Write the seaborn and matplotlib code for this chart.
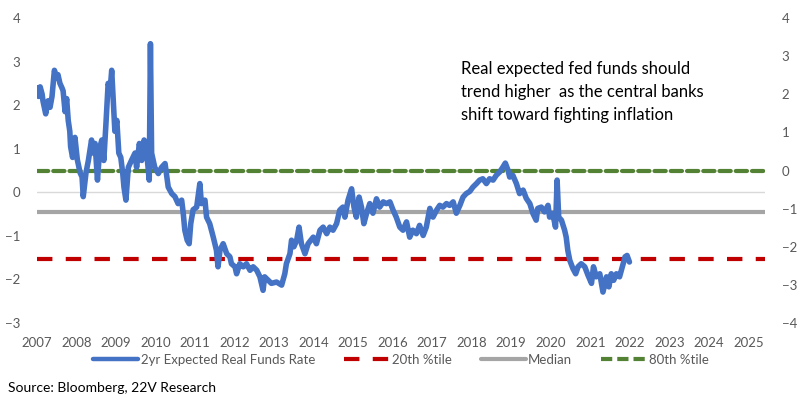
import numpy as np
import pandas as pd
import matplotlib
matplotlib.use("Agg")
import matplotlib.pyplot as plt
import seaborn as sns
from matplotlib.lines import Line2D

# 2yr expected real fed funds rate (decimal year, %)
years = [
    2007.00, 2007.04, 2007.08, 2007.13, 2007.15, 2007.22, 2007.28, 2007.33, 2007.38, 2007.40,
    2007.44, 2007.50, 2007.53, 2007.58, 2007.63, 2007.66, 2007.71, 2007.75, 2007.79, 2007.83,
    2007.85, 2007.90, 2007.96, 2008.02, 2008.09, 2008.14, 2008.17, 2008.24, 2008.30, 2008.38,
    2008.42, 2008.47, 2008.53, 2008.59, 2008.64, 2008.69, 2008.74, 2008.80, 2008.85, 2008.89,
    2008.93, 2008.97, 2009.02, 2009.07, 2009.12, 2009.17, 2009.20, 2009.25, 2009.31, 2009.39,
    2009.48, 2009.52, 2009.59, 2009.65, 2009.71, 2009.77, 2009.84, 2009.87, 2009.90, 2009.98,
    2010.07, 2010.15, 2010.24, 2010.32, 2010.41, 2010.49, 2010.57, 2010.66, 2010.70, 2010.74,
    2010.80, 2010.85, 2010.89, 2010.95, 2011.04, 2011.12, 2011.16, 2011.25, 2011.29, 2011.37,
    2011.46, 2011.54, 2011.58, 2011.63, 2011.71, 2011.80, 2011.88, 2011.92, 2012.01, 2012.05,
    2012.13, 2012.22, 2012.30, 2012.39, 2012.47, 2012.56, 2012.64, 2012.72, 2012.76, 2012.85,
    2012.93, 2013.06, 2013.19, 2013.27, 2013.31, 2013.40, 2013.44, 2013.50, 2013.57, 2013.63,
    2013.69, 2013.78, 2013.86, 2013.99, 2014.07, 2014.16, 2014.24, 2014.33, 2014.41, 2014.49,
    2014.58, 2014.66, 2014.74, 2014.79, 2014.87, 2014.96, 2015.02, 2015.08, 2015.15, 2015.21,
    2015.27, 2015.34, 2015.42, 2015.50, 2015.59, 2015.67, 2015.76, 2015.84, 2015.93, 2016.01,
    2016.09, 2016.18, 2016.26, 2016.35, 2016.43, 2016.51, 2016.60, 2016.68, 2016.77, 2016.85,
    2016.94, 2017.02, 2017.11, 2017.19, 2017.27, 2017.36, 2017.44, 2017.53, 2017.61, 2017.70,
    2017.78, 2017.86, 2017.95, 2018.03, 2018.12, 2018.20, 2018.28, 2018.37, 2018.45, 2018.54,
    2018.62, 2018.71, 2018.79, 2018.85, 2018.92, 2018.96, 2019.04, 2019.13, 2019.21, 2019.30,
    2019.38, 2019.47, 2019.55, 2019.63, 2019.67, 2019.76, 2019.84, 2019.93, 2019.97, 2020.05,
    2020.12, 2020.16, 2020.20, 2020.27, 2020.35, 2020.39, 2020.43, 2020.48, 2020.56, 2020.63,
    2020.69, 2020.77, 2020.86, 2020.94, 2021.03, 2021.08, 2021.15, 2021.24, 2021.32, 2021.41,
    2021.47, 2021.53, 2021.59, 2021.66, 2021.74, 2021.83, 2021.88, 2021.93, 2021.99,
]
real_rate = [
    2.40, 2.20, 2.42, 2.25, 2.10, 1.80, 2.10, 1.95, 2.20, 2.40,
    2.80, 2.62, 2.70, 2.50, 2.40, 2.33, 1.85, 2.15, 1.65, 1.40,
    1.05, 0.80, 1.26, 0.75, 0.45, 0.35, -0.10, 0.45, 0.73, 1.20,
    0.90, 1.12, 0.28, 1.03, 1.20, 0.73, 1.50, 2.50, 2.34, 2.80,
    2.10, 1.40, 1.65, 0.90, 0.80, 0.43, 0.12, -0.18, 0.57, 0.73,
    0.90, 0.57, 1.12, 0.73, 1.20, 0.96, 0.28, 3.41, 0.90, 0.57,
    0.43, 0.57, 0.66, 0.12, -0.03, -0.10, -0.26, -0.18, -0.48, -0.87,
    -1.10, -1.18, -0.72, -0.40, -0.34, 0.20, -0.26, -0.18, -0.57, -0.72,
    -1.03, -1.33, -1.71, -1.33, -1.18, -1.41, -1.48, -1.64, -1.71, -1.87,
    -1.64, -1.71, -1.64, -1.79, -1.71, -1.79, -1.94, -2.25, -1.94, -2.02,
    -2.09, -2.06, -2.13, -1.87, -1.64, -1.41, -1.10, -1.25, -1.10, -0.80,
    -1.18, -1.41, -1.18, -1.03, -1.18, -0.87, -0.80, -0.95, -0.80, -0.87,
    -0.72, -0.41, -0.34, -0.57, -0.18, 0.08, -0.34, -0.57, -0.11, -0.34,
    -0.72, -0.48, -0.26, -0.48, -0.15, -0.34, -0.22, -0.26, -0.22, -0.41,
    -0.57, -0.80, -0.87, -0.68, -1.03, -0.87, -0.95, -0.76, -0.99, -0.80,
    -0.37, -0.57, -0.41, -0.30, -0.34, -0.26, -0.30, -0.22, -0.48, -0.30,
    -0.11, -0.03, 0.02, 0.12, 0.20, 0.28, 0.31, 0.20, 0.31, 0.28,
    0.39, 0.47, 0.58, 0.67, 0.50, 0.35, 0.39, 0.20, -0.03, 0.05,
    -0.14, -0.26, -0.49, -0.64, -0.37, -0.34, -0.45, -0.30, -0.57, -0.49,
    -0.80, 0.28, -0.57, -0.64, -0.87, -1.03, -1.33, -1.56, -1.75, -1.87,
    -1.71, -1.64, -1.71, -1.90, -2.09, -1.71, -1.94, -1.87, -2.29, -1.94,
    -2.17, -1.87, -2.02, -1.87, -1.94, -1.64, -1.48, -1.45, -1.60,
]

pct_20 = -1.53
median = -0.45
pct_80 = 0.48
year_ticks = list(range(2007, 2026))

df = pd.DataFrame({"year": years, "rate": real_rate})

sns.set_style("white")
plt.rcParams["font.family"] = ["Lato", "DejaVu Sans"]

blue = "#4472C4"
red = "#C00000"
grey = "#A5A5A5"
green = "#548235"
tick_col = "#595959"

fig = plt.figure(figsize=(8.02, 4.0), dpi=100)
ax = fig.add_axes([37 / 802, 77 / 400, 728 / 802, 305 / 400])
ax2 = ax.twinx()

# zero axis line
ax.axhline(0, color="#D9D9D9", lw=1.0, zorder=1)

ax.axhline(median, color=grey, lw=3.0, zorder=2, solid_capstyle="butt")
ax.axhline(pct_20, color=red, lw=3.0, zorder=2, dashes=(3.7, 3.2), dash_capstyle="butt")
ax.axhline(pct_80, color=green, lw=3.0, zorder=2, dashes=(2.7, 1.2), dash_capstyle="round")

sns.lineplot(data=df, x="year", y="rate", ax=ax, color=blue, lw=4.0, sort=False,
             zorder=3, legend=False)

ax.set_xlim(2007, 2025.42)
ax.set_ylim(-3, 4)
ax2.set_ylim(-4, 4)
ax.set_xticks(year_ticks)
ax.set_xticklabels([str(y) for y in year_ticks])
ax.set_yticks(range(-3, 5))
ax2.set_yticks(range(-4, 5))
ax.set_xlabel("")
ax.set_ylabel("")

for a in (ax, ax2):
    for s in a.spines.values():
        s.set_visible(False)
    a.tick_params(length=0, labelsize=9.5, colors=tick_col)
ax.tick_params(axis="y", pad=12)
ax2.tick_params(axis="y", pad=12)
ax.tick_params(axis="x", pad=10)

fig.text(461 / 802, 1 - 61 / 400,
         "Real expected fed funds should\ntrend higher  as the central banks\nshift toward fighting inflation",
         fontsize=12.0, color="black", va="top", ha="left", linespacing=1.52)

handles = [
    Line2D([], [], color=blue, lw=3.2),
    Line2D([], [], color=red, lw=3.0, dashes=(3.7, 3.2)),
    Line2D([], [], color=grey, lw=3.0),
    Line2D([], [], color=green, lw=3.0, dashes=(2.7, 1.2)),
]
labels = ["2yr Expected Real Funds Rate", "20th %tile", "Median", "80th %tile"]
leg = fig.legend(handles, labels, loc="center", bbox_to_anchor=(0.5, 1 - 360 / 400),
                 ncol=4, frameon=False, fontsize=9.5, handlelength=3.4,
                 handletextpad=0.2, columnspacing=2.2)
for t in leg.get_texts():
    t.set_color(tick_col)

fig.text(8 / 802, 1 - 388 / 400, "Source: Bloomberg, 22V Research", fontsize=10,
         color="black", va="center", ha="left")

fig.savefig("out.png", dpi=100)
